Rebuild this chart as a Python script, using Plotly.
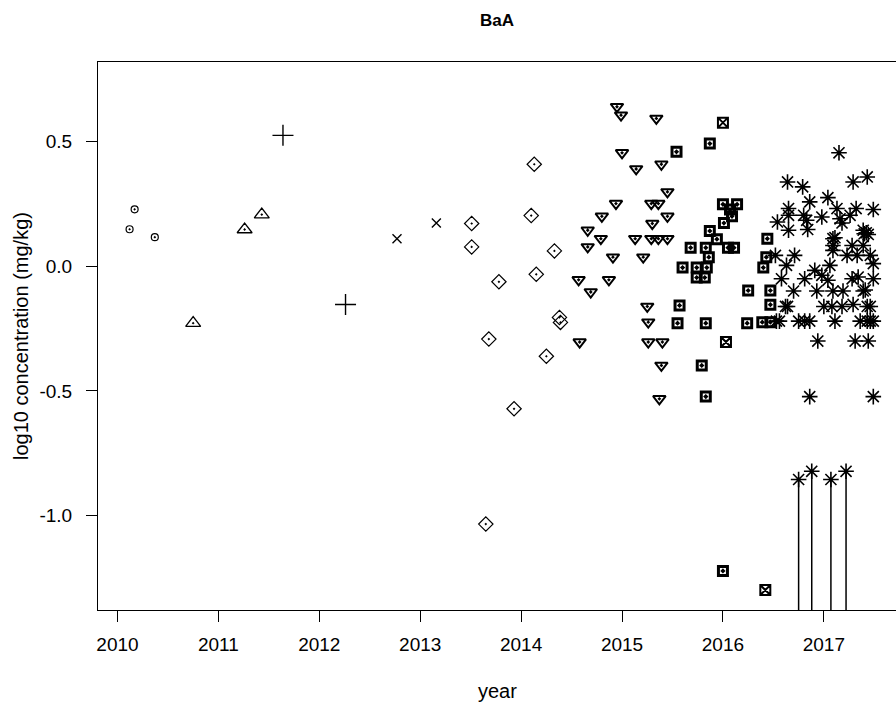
import plotly.graph_objects as go

# ---- data (year, log10 concentration) by sampling period ----
circ_x = [2010.12, 2010.17, 2010.37]
circ_y = [0.149, 0.229, 0.117]

tri_x = [2010.75, 2011.26, 2011.43]
tri_y = [-0.228, 0.148, 0.208]

plus_x = [2011.64, 2012.26]
plus_y = [0.526, -0.153]

cross_x = [2012.77, 2013.16]
cross_y = [0.111, 0.174]

dia_x = [2014.13, 2013.51, 2013.51, 2014.10, 2014.33, 2013.78, 2014.15, 2014.38, 2014.39,
         2013.68, 2014.25, 2013.93, 2013.65]
dia_y = [0.410, 0.172, 0.078, 0.204, 0.062, -0.062, -0.032, -0.205, -0.225,
         -0.292, -0.361, -0.572, -1.035]

tdn_x = [2014.95, 2014.99, 2015.34, 2015.00, 2015.14, 2015.39, 2015.45, 2014.94, 2015.29,
         2015.36, 2014.80, 2015.45, 2015.30, 2014.66, 2014.79, 2015.13, 2015.29, 2015.36,
         2015.45, 2014.66, 2014.91, 2015.21, 2014.57, 2014.87, 2014.69, 2015.25, 2015.26,
         2014.58, 2015.26, 2015.40, 2015.39, 2015.37]
tdn_y = [0.641, 0.607, 0.594, 0.456, 0.391, 0.410, 0.299, 0.252, 0.252,
         0.252, 0.201, 0.201, 0.172, 0.145, 0.111, 0.111, 0.111, 0.111,
         0.111, 0.078, 0.037, 0.037, -0.054, -0.054, -0.103, -0.161, -0.224,
         -0.304, -0.304, -0.304, -0.398, -0.532]

sq_x = [2015.87, 2015.54, 2016.00, 2016.14, 2016.07, 2016.09, 2016.01, 2015.87, 2015.94,
        2015.68, 2015.83, 2016.05, 2016.11, 2015.86, 2015.60, 2015.74, 2015.84, 2015.74,
        2015.82, 2015.57, 2015.55, 2015.83, 2015.79, 2015.83, 2016.24, 2016.25, 2016.47,
        2016.44, 2016.43, 2016.40, 2016.47, 2016.39, 2016.47, 2016.00]
sq_y = [0.493, 0.460, 0.249, 0.249, 0.228, 0.201, 0.174, 0.142, 0.109,
        0.075, 0.075, 0.075, 0.075, 0.037, -0.005, -0.005, -0.005, -0.045,
        -0.045, -0.157, -0.228, -0.228, -0.398, -0.523, -0.228, -0.097, -0.097,
        0.111, 0.037, -0.005, -0.154, -0.224, -0.224, -1.223]

sqx_x = [2016.00, 2016.03, 2016.42]
sqx_y = [0.577, -0.304, -1.300]

ast_x = [2017.15, 2017.43, 2017.29, 2016.64, 2016.79, 2017.04, 2016.86, 2017.49, 2017.13,
         2017.32, 2016.65, 2016.65, 2016.80, 2016.98, 2017.16, 2017.26, 2017.18, 2016.83,
         2016.54, 2016.65, 2016.84, 2017.11, 2017.39, 2017.42, 2017.44, 2017.40,
         2017.09, 2017.09, 2017.28, 2017.39, 2017.09, 2016.52, 2016.71, 2017.23, 2017.33,
         2017.46, 2017.49, 2016.63, 2017.06, 2016.91, 2016.58, 2016.81, 2016.98, 2017.04,
         2017.28, 2017.34, 2017.49, 2016.70, 2016.93, 2017.09, 2017.19, 2017.39, 2017.41,
         2016.62, 2016.64, 2017.00, 2017.08, 2017.18, 2017.29, 2017.43, 2017.46,
         2016.53, 2016.56, 2016.75, 2016.81, 2016.86, 2017.11, 2017.36, 2017.43, 2017.46, 2017.49,
         2016.94, 2017.31, 2017.44, 2016.86, 2017.49]
ast_y = [0.456, 0.359, 0.339, 0.339, 0.319, 0.276, 0.259, 0.228, 0.232,
         0.232, 0.232, 0.205, 0.205, 0.198, 0.191, 0.205, 0.174, 0.185,
         0.178, 0.145, 0.148, 0.115, 0.145, 0.135, 0.128, 0.131,
         0.111, 0.084, 0.084, 0.084, 0.064, 0.044, 0.044, 0.044, 0.044,
         0.044, 0.011, 0.004, 0.004, -0.016, -0.050, -0.050, -0.036, -0.056,
         -0.050, -0.043, -0.050, -0.099, -0.099, -0.099, -0.099, -0.099, -0.095,
         -0.161, -0.161, -0.161, -0.161, -0.161, -0.153, -0.161, -0.161,
         -0.220, -0.220, -0.220, -0.220, -0.220, -0.220, -0.220, -0.220, -0.220, -0.220,
         -0.300, -0.300, -0.300, -0.523, -0.523]

# asterisk points that carry a drop line to the axis
drop_x = [2016.75, 2016.88, 2017.07, 2017.22]
drop_y = [-0.856, -0.823, -0.856, -0.823]

x_ticks = [2010, 2011, 2012, 2013, 2014, 2015, 2016, 2017]
y_ticks = [-1.0, -0.5, 0.0, 0.5]
y_tick_text = ["-1.0", "-0.5", "0.0", "0.5"]

X_RANGE = [2009.807, 2017.715]
Y_RANGE = [-1.380, 0.8206]

FONT = "Liberation Sans, Arial, sans-serif"

fig = go.Figure()


def add_pts(xs, ys, symbol, size, lw):
    fig.add_trace(go.Scatter(
        x=xs, y=ys, mode="markers", showlegend=False, hoverinfo="x+y",
        marker=dict(symbol=symbol, size=size, color="black",
                    line=dict(color="black", width=lw))))


# drop lines from each point to the bottom of the plot
lx, ly = [], []
for xv, yv in zip(drop_x, drop_y):
    lx += [xv, xv, None]
    ly += [yv, Y_RANGE[0], None]
fig.add_trace(go.Scatter(x=lx, y=ly, mode="lines", showlegend=False,
                         line=dict(color="black", width=1.5), hoverinfo="skip"))

add_pts(circ_x, circ_y, "circle-open-dot", 7, 1.2)
add_pts(tri_x, tri_y, "triangle-up-open-dot", 13, 1.3)
add_pts(plus_x, plus_y, "cross-thin-open", 15, 1.4)
add_pts(cross_x, cross_y, "x-thin-open", 9, 1.4)
add_pts(dia_x, dia_y, "diamond-open-dot", 11, 1.2)
add_pts(tdn_x, tdn_y, "triangle-down-open-dot", 11, 2)
add_pts(sq_x, sq_y, "square-open-dot", 9, 3)
add_pts(sqx_x, sqx_y, "square-x-open", 10, 2)
add_pts(ast_x, ast_y, "asterisk-open", 13, 1.6)
add_pts(drop_x, drop_y, "asterisk-open", 13, 1.6)

fig.update_layout(
    width=896, height=704,
    margin=dict(l=98, r=0, t=62, b=94),
    paper_bgcolor="white", plot_bgcolor="white",
    font=dict(family=FONT, size=19, color="black"),
    xaxis=dict(range=X_RANGE, tickmode="array", tickvals=x_ticks,
               ticks="outside", ticklen=11, tickwidth=1, tickcolor="black",
               ticklabelstandoff=6,
               showline=True, linecolor="black", linewidth=1, mirror=True,
               showgrid=False, zeroline=False,
               tickfont=dict(family=FONT, size=19)),
    yaxis=dict(range=Y_RANGE, tickmode="array", tickvals=y_ticks, ticktext=y_tick_text,
               ticks="outside", ticklen=11, tickwidth=1, tickcolor="black",
               ticklabelstandoff=10,
               showline=True, linecolor="black", linewidth=1, mirror=False,
               showgrid=False, zeroline=False,
               tickfont=dict(family=FONT, size=19)),
    annotations=[
        dict(text="<b>BaA</b>", x=0.5, y=1, xref="paper", yref="paper",
             xanchor="center", yanchor="middle",
             yshift=42, showarrow=False, font=dict(family=FONT, size=17)),
        dict(text="year", x=0.5, y=0, xref="paper", yref="paper",
             xanchor="center", yanchor="middle",
             yshift=-81, showarrow=False, font=dict(family=FONT, size=20)),
        dict(text="log10 concentration (mg/kg)", x=0, y=0.5, xref="paper", yref="paper",
             xanchor="center", yanchor="middle",
             xshift=-77, textangle=-90, showarrow=False, font=dict(family=FONT, size=20)),
    ],
)

# remove the browser's default 8px page margin so the figure fills the window
fig.write_html("out.html",
               config={"displayModeBar": False},
               post_script="document.body.style.margin='0';document.body.style.overflow='hidden';")
